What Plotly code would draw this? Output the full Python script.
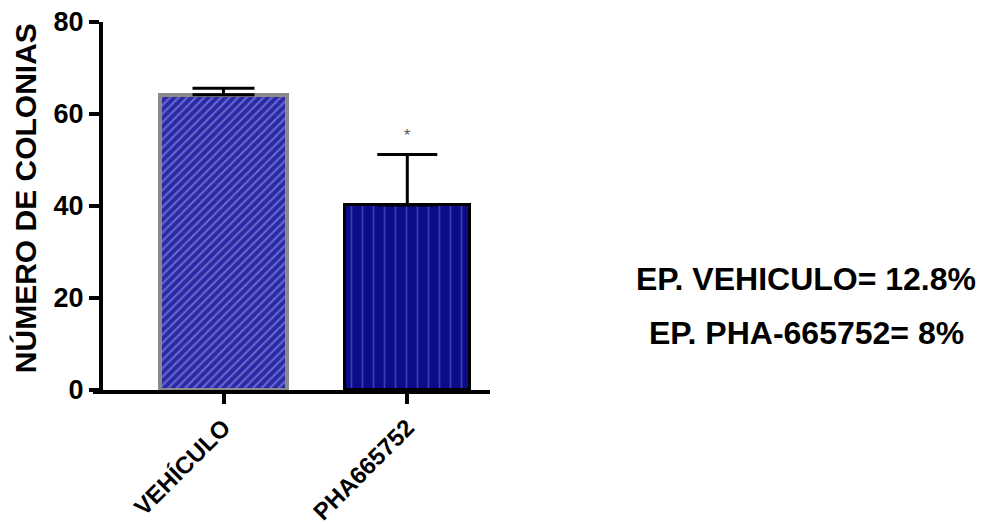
import plotly.graph_objects as go

# Colony counts per treatment (mean and upper SEM)
categories = ["VEHÍCULO", "PHA665752"]
means = [64.2, 40.2]
sem_upper = [1.4, 11.0]
y_ticks = [0, 20, 40, 60, 80]
notes = ["EP. VEHICULO= 12.8%", "EP. PHA-665752= 8%"]

FONT = "Arial, Liberation Sans, sans-serif"

fig = go.Figure()

fig.add_trace(go.Bar(
    x=[categories[0]], y=[means[0]], width=0.69,
    marker=dict(
        color="#2d2db0",
        line=dict(color="#8a8a8a", width=4),
        pattern=dict(shape="/", fgcolor="#a8a8f0", bgcolor="#2a2aa8",
                     size=6, solidity=0.35),
    ),
    error_y=dict(type="data", symmetric=False, array=[sem_upper[0]],
                 arrayminus=[0], color="black", thickness=3, width=31),
    showlegend=False,
))

fig.add_trace(go.Bar(
    x=[categories[1]], y=[means[1]], width=0.68,
    marker=dict(
        color="#0c0c8a",
        line=dict(color="black", width=3),
        pattern=dict(shape="|", fgcolor="#6e6ed8", bgcolor="#0c0c8a",
                     size=11, solidity=0.15),
    ),
    error_y=dict(type="data", symmetric=False, array=[sem_upper[1]],
                 arrayminus=[0], color="black", thickness=3, width=30),
    showlegend=False,
))

# significance marker over the treated group
fig.add_annotation(x=categories[1], y=means[1] + sem_upper[1] + 4.2,
                   text="*", showarrow=False,
                   font=dict(family=FONT, size=16, color="#555555"))

# y-axis title
fig.add_annotation(xref="paper", yref="paper", x=-0.17, y=0.52,
                   xanchor="center", yanchor="middle",
                   text="NÚMERO DE COLONIAS", textangle=-90, showarrow=False,
                   font=dict(family=FONT, size=30, color="black", weight="bold"))

# notes to the right of the plot
for txt, yp in zip(notes, [0.302, 0.155]):
    fig.add_annotation(xref="paper", yref="paper", x=1.796, y=yp,
                       text=txt, showarrow=False, xanchor="center", yanchor="middle",
                       font=dict(family=FONT, size=32, color="black", weight="bold"))

fig.update_layout(
    width=986, height=525,
    margin=dict(l=93, r=496, t=22, b=135, autoexpand=False),
    plot_bgcolor="white", paper_bgcolor="white",
    bargap=0,
    xaxis=dict(
        type="category", range=[-0.71, 1.45], automargin=False,
        showline=True, linecolor="black", linewidth=4,
        ticks="outside", ticklen=10, tickwidth=4, tickcolor="black",
        tickangle=-45, showgrid=False, zeroline=False,
        tickfont=dict(family=FONT, size=24, color="black", weight="bold"),
    ),
    yaxis=dict(
        range=[0, 80], tickvals=y_ticks, anchor="free", position=0.02,
        automargin=False,
        showline=True, linecolor="black", linewidth=4,
        ticks="outside", ticklen=10, tickwidth=4, tickcolor="black",
        showgrid=False, zeroline=False,
        tickfont=dict(family=FONT, size=27, color="black", weight="bold"),
    ),
)

fig.write_html("out.html")
